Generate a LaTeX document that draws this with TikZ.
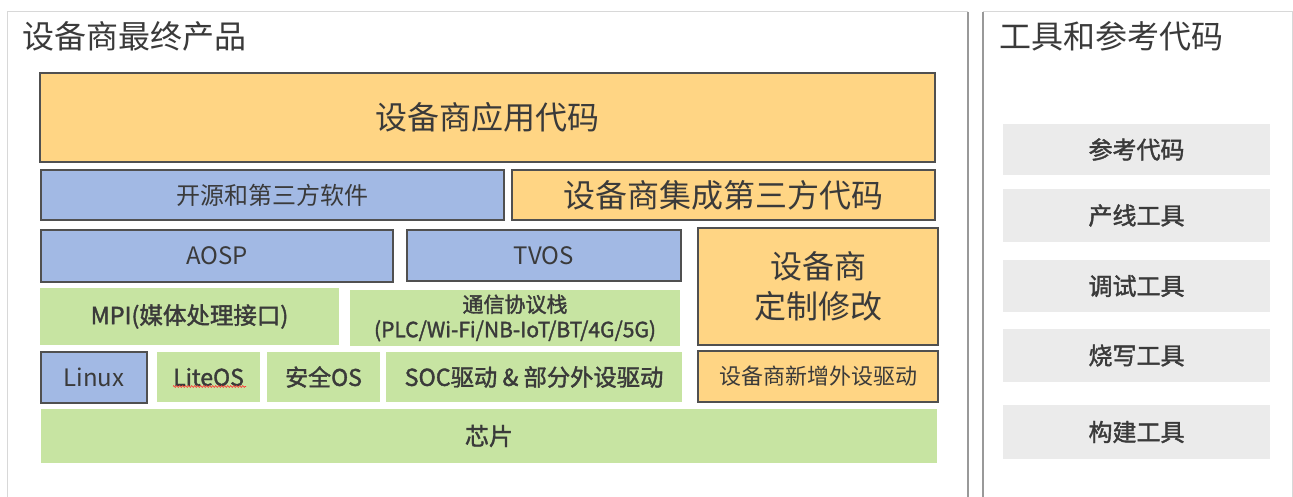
\documentclass[tikz,border=0pt]{standalone}
\usepackage{fontspec}
\setmainfont{Noto Sans CJK SC}[AutoFakeBold=1.6]
\usetikzlibrary{decorations.pathmorphing}
\definecolor{orng}{HTML}{FFD584}
\definecolor{blu}{HTML}{A2B9E4}
\definecolor{grn}{HTML}{C7E4A2}
\definecolor{gry}{HTML}{EBEBEB}
\definecolor{edge}{HTML}{505050}
\definecolor{txt}{HTML}{3A3A3A}
\definecolor{frame}{HTML}{D8D8D8}
\begin{document}
\begin{tikzpicture}[x=1pt,y=-1pt,
  blk/.style={inner sep=0pt, text=txt, align=center, font=\fontsize{24}{28}\selectfont,
    execute at begin node={\vspace*{-3pt}}},
  obox/.style={blk, fill=orng, draw=edge, line width=1.3pt},
  bbox/.style={blk, fill=blu, draw=edge, line width=1.3pt},
  gbox/.style={blk, fill=grn},
  tbox/.style={blk, fill=gry, font=\fontsize{24}{28}\selectfont\bfseries},
  ttl/.style={inner sep=0pt, anchor=west, text=txt, font=\fontsize{32}{36}\selectfont}
]
\useasboundingbox (0,0) rectangle (1293,497);
\fill[white] (0,0) rectangle (1293,497);
% panel frames
\draw[frame, line width=1pt] (7,497) -- (7,12) -- (968,12);
\draw[gray!80, line width=1.2pt] (968,12) -- (968,497);
\draw[gray!80, line width=1.2pt] (983,497) -- (983,12);
\draw[frame, line width=1pt] (983,12) -- (1292,12) -- (1292,497);
% titles
\node[ttl] (t1) at (22,36) {设备商最终产品};
\node[ttl] (t2) at (999,36) {工具和参考代码};
% left stack
\node[obox, minimum width=895pt, minimum height=89pt, font=\fontsize{32}{36}\selectfont] (app) at (487.5,117.5) {设备商应用代码};
\node[bbox, minimum width=463pt, minimum height=50pt] (open) at (272.5,195) {开源和第三方软件};
\node[obox, minimum width=423pt, minimum height=50pt, font=\fontsize{32}{36}\selectfont] (integ) at (723.5,195) {设备商集成第三方代码};
\node[bbox, minimum width=352pt, minimum height=52pt] (aosp) at (217,256) {AOSP};
\node[bbox, minimum width=274pt, minimum height=51pt] (tvos) at (544,255.5) {TVOS};
\node[obox, minimum width=240pt, minimum height=117pt, font=\fontsize{32}{40}\selectfont] (custom) at (818,286.5) {设备商\\定制修改};
\node[gbox, minimum width=299pt, minimum height=57pt, font=\fontsize{23.5}{26}\selectfont\bfseries] (mpi) at (189.5,316.5) {MPI(媒体处理接口)};
\node[gbox, minimum width=330pt, minimum height=56pt, font=\fontsize{21}{25}\selectfont\bfseries] (comm) at (515,318) {通信协议栈\\(PLC/Wi-Fi/NB-IoT/BT/4G/5G)};
\node[bbox, minimum width=106pt, minimum height=51pt] (linux) at (94,377.5) {Linux};
\node[gbox, minimum width=103pt, minimum height=50pt, font=\fontsize{23}{26}\selectfont\bfseries] (liteos) at (208.5,377) {LiteOS};
\node[gbox, minimum width=113pt, minimum height=50pt, font=\fontsize{23}{26}\selectfont\bfseries] (secos) at (323.5,377) {安全OS};
\node[gbox, minimum width=296pt, minimum height=50pt, font=\fontsize{23.3}{26}\selectfont\bfseries] (soc) at (534,377) {SOC驱动 \& 部分外设驱动};
\node[obox, minimum width=240pt, minimum height=51pt, font=\fontsize{22}{26}\selectfont] (newdrv) at (818,376.5) {设备商新增外设驱动};
\node[gbox, minimum width=896pt, minimum height=54pt, font=\fontsize{24}{28}\selectfont\bfseries] (chip) at (489,436) {芯片};
\draw[red!80, line width=0.6pt, decorate, decoration={zigzag, segment length=3pt, amplitude=0.9pt}] (173,386.5) -- (246,386.5);
% right panel
\node[tbox, minimum width=267pt, minimum height=51pt] (ref) at (1136.5,149.5) {参考代码};
\node[tbox, minimum width=267pt, minimum height=53pt] (prod) at (1136.5,215.5) {产线工具};
\node[tbox, minimum width=267pt, minimum height=52pt] (dbg) at (1136.5,286) {调试工具};
\node[tbox, minimum width=267pt, minimum height=53pt] (burn) at (1136.5,355.5) {烧写工具};
\node[tbox, minimum width=267pt, minimum height=54pt] (bld) at (1136.5,432) {构建工具};
\end{tikzpicture}
\end{document}
